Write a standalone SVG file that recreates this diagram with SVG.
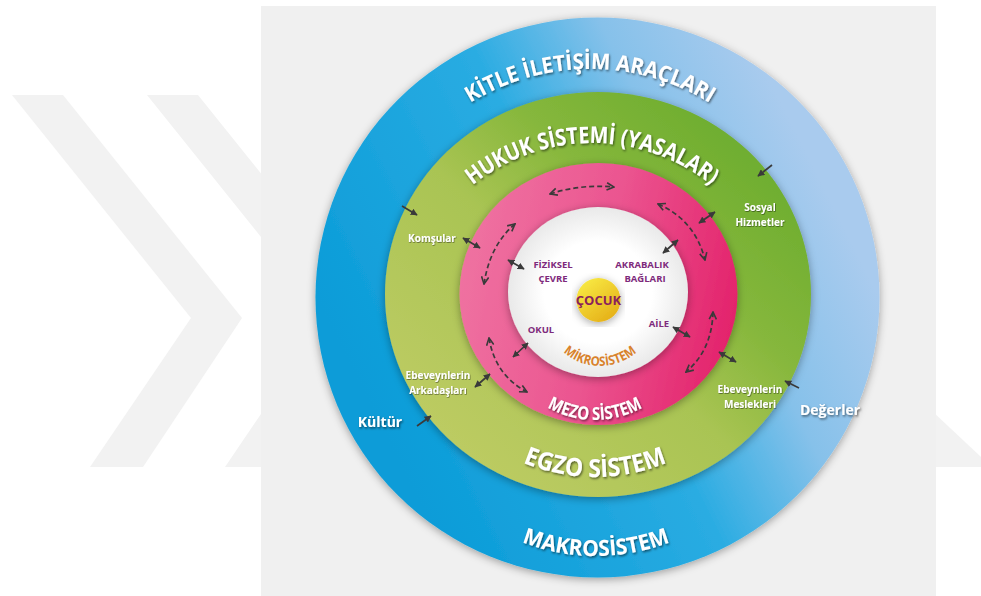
<svg xmlns="http://www.w3.org/2000/svg" width="981" height="596" viewBox="0 0 981 596">
<defs>
<style>
.ring-lbl{font-family:"Open Sans","Noto Sans","DejaVu Sans",sans-serif;font-weight:700;fill:#ffffff;filter:url(#ts)}
.small{font-family:"Open Sans","Noto Sans","DejaVu Sans",sans-serif;font-weight:700;font-size:10px;fill:#ffffff;text-anchor:middle;filter:url(#ts2)}
.side{font-family:"Open Sans","Noto Sans","DejaVu Sans",sans-serif;font-weight:700;font-size:14px;fill:#ffffff;text-anchor:middle;filter:url(#ts)}
.micro{font-family:"Open Sans","Noto Sans","DejaVu Sans",sans-serif;font-weight:700;font-size:9.5px;fill:#7e2a7c;text-anchor:middle}
.solid{fill:none;stroke:#3a3a3a;stroke-width:1.7;marker-start:url(#ah);marker-end:url(#ah)}
.single{fill:none;stroke:#3a3a3a;stroke-width:1.7;marker-end:url(#ah)}
.dash{fill:none;stroke:#3a3a3a;stroke-width:1.7;stroke-dasharray:5 3;marker-start:url(#ch);marker-end:url(#ch)}
</style>
<linearGradient id="gBlue" x1="0.1" y1="0.7" x2="0.9" y2="0.3">
<stop offset="0" stop-color="#0b9cd8"/><stop offset="0.5" stop-color="#2aace2"/><stop offset="0.75" stop-color="#86c1ea"/><stop offset="1" stop-color="#a9cbee"/>
</linearGradient>
<linearGradient id="gGreen" x1="0.15" y1="0.85" x2="0.85" y2="0.15">
<stop offset="0" stop-color="#bccb62"/><stop offset="0.45" stop-color="#a9c453"/><stop offset="0.7" stop-color="#86b73c"/><stop offset="1" stop-color="#6fae30"/>
</linearGradient>
<linearGradient id="gPink" x1="0" y1="0.4" x2="1" y2="0.6">
<stop offset="0" stop-color="#ef72a1"/><stop offset="0.5" stop-color="#eb5590"/><stop offset="1" stop-color="#e3226b"/>
</linearGradient>
<radialGradient id="gWhite" cx="0.5" cy="0.5" r="0.5">
<stop offset="0.6" stop-color="#ffffff"/><stop offset="1" stop-color="#e9e9e9"/>
</radialGradient>
<linearGradient id="gYellow" x1="0.2" y1="0.1" x2="0.8" y2="0.9">
<stop offset="0" stop-color="#f7e640"/><stop offset="1" stop-color="#e6b21a"/>
</linearGradient>
<filter id="sh" x="-10%" y="-10%" width="120%" height="120%">
<feDropShadow dx="0" dy="2" stdDeviation="4" flood-color="#000" flood-opacity="0.35"/>
</filter>
<filter id="ts" x="-10%" y="-30%" width="120%" height="160%">
<feDropShadow dx="1" dy="1.5" stdDeviation="0.8" flood-color="#000" flood-opacity="0.55"/>
</filter>
<filter id="ts2" x="-10%" y="-30%" width="120%" height="160%">
<feDropShadow dx="0.6" dy="0.8" stdDeviation="0.5" flood-color="#000" flood-opacity="0.5"/>
</filter>
<marker id="ah" viewBox="0 0 10 10" refX="9" refY="5" markerWidth="7" markerHeight="7" markerUnits="userSpaceOnUse" orient="auto-start-reverse">
<path d="M0,0 L10,5 L0,10 Z" fill="#3a3a3a"/>
</marker>
<marker id="ch" viewBox="0 0 10 10" refX="9" refY="5" markerWidth="9" markerHeight="9" markerUnits="userSpaceOnUse" orient="auto-start-reverse">
<path d="M1,1 L9,5 L1,9" fill="none" stroke="#3a3a3a" stroke-width="1.8"/>
</marker>
<path id="pKitle" d="M362 297 A228 228 0 0 1 818 297"/>
<path id="pHukuk" d="M402 333 A190 190 0 0 1 782 333"/>
<path id="pEgzo" d="M407 289 A188 188 0 0 0 783 289"/>
<path id="pMakro" d="M390 350 A206 206 0 0 0 802 350"/>
<path id="pMezo" d="M498 323 A97 97 0 0 0 692 323"/>
<path id="pMikro" d="M545 311 A55 55 0 0 0 655 311"/>
</defs>

<rect x="0" y="0" width="981" height="596" fill="#ffffff"/>
<g id="watermark" fill="#f2f2f2">
<polygon points="12,95 63,95 242,318 143,467 90,467 191,318"/>
<polygon points="147,95 198,95 377,318 278,467 225,467 326,318"/>
<polygon points="900,381 981,457 981,467 900,467"/>
</g>
<rect x="261" y="6" width="675" height="590" fill="#f0f0f0"/>

<g id="makrosistem">
<ellipse cx="597.5" cy="297.5" rx="282" ry="280" fill="url(#gBlue)" filter="url(#sh)"/>
<text class="ring-lbl" font-size="22"><textPath href="#pKitle" startOffset="50%" text-anchor="middle" textLength="252" lengthAdjust="spacingAndGlyphs">KİTLE İLETİŞİM ARAÇLARI</textPath></text>
<text class="ring-lbl" font-size="22"><textPath href="#pMakro" startOffset="50%" text-anchor="middle" textLength="152" lengthAdjust="spacingAndGlyphs">MAKROSİSTEM</textPath></text>
<text class="side" x="380" y="427">Kültür</text>
<text class="side" x="830" y="415">Değerler</text>
</g>

<g id="egzosistem">
<ellipse cx="598" cy="294.5" rx="213" ry="202.5" fill="url(#gGreen)" filter="url(#sh)"/>
<text class="ring-lbl" font-size="23"><textPath href="#pHukuk" startOffset="50%" text-anchor="middle" textLength="258" lengthAdjust="spacingAndGlyphs">HUKUK SİSTEMİ (YASALAR)</textPath></text>
<text class="ring-lbl" font-size="25"><textPath href="#pEgzo" startOffset="50%" text-anchor="middle" textLength="148" lengthAdjust="spacingAndGlyphs">EGZO SİSTEM</textPath></text>
<text class="small" x="432" y="242">Komşular</text>
<text class="small" x="760" y="211">Sosyal</text>
<text class="small" x="760" y="226">Hizmetler</text>
<text class="small" x="438" y="379">Ebeveynlerin</text>
<text class="small" x="438" y="393.5">Arkadaşları</text>
<text class="small" x="750" y="393">Ebeveynlerin</text>
<text class="small" x="750" y="407.5">Meslekleri</text>
</g>

<g id="mezosistem">
<ellipse cx="598.5" cy="294" rx="139" ry="131" fill="url(#gPink)" filter="url(#sh)"/>
<text class="ring-lbl" font-size="18"><textPath href="#pMezo" startOffset="50%" text-anchor="middle" textLength="100" lengthAdjust="spacingAndGlyphs">MEZO SİSTEM</textPath></text>
</g>

<g id="mikrosistem">
<ellipse cx="598" cy="292" rx="90" ry="85" fill="url(#gWhite)" filter="url(#sh)"/>
<text font-family="Open Sans, Noto Sans, sans-serif" font-weight="700" font-size="13" fill="#d9822b"><textPath href="#pMikro" startOffset="50%" text-anchor="middle" textLength="80" lengthAdjust="spacingAndGlyphs">MİKROSİSTEM</textPath></text>
<text class="micro" x="553" y="268">FİZİKSEL</text>
<text class="micro" x="553" y="282">ÇEVRE</text>
<text class="micro" x="642" y="268">AKRABALIK</text>
<text class="micro" x="645" y="282">BAĞLARI</text>
<text class="micro" x="541" y="333">OKUL</text>
<text class="micro" x="659" y="327">AİLE</text>
</g>

<g id="cocuk">
<circle cx="598.5" cy="300" r="22" fill="url(#gYellow)" filter="url(#sh)"/>
<text x="598.5" y="305" font-family="Open Sans, Noto Sans, sans-serif" font-weight="700" font-size="13" fill="#8a1f5c" text-anchor="middle">ÇOCUK</text>
</g>

<g id="connectors">
<line class="solid" x1="463" y1="238" x2="480" y2="248"/>
<line class="solid" x1="508" y1="260" x2="524" y2="269"/>
<line class="solid" x1="699" y1="223" x2="715" y2="212"/>
<line class="solid" x1="663" y1="253" x2="678" y2="240"/>
<line class="solid" x1="513" y1="357" x2="528" y2="343"/>
<line class="solid" x1="475" y1="387" x2="490" y2="374"/>
<line class="solid" x1="673" y1="327" x2="690" y2="337"/>
<line class="solid" x1="719" y1="352" x2="736" y2="362"/>
<line class="single" x1="402" y1="206" x2="417" y2="215"/>
<line class="single" x1="772" y1="165" x2="758" y2="176"/>
<line class="single" x1="417" y1="426" x2="431" y2="416"/>
<line class="single" x1="799" y1="388" x2="785" y2="381"/>
<path class="dash" d="M550 194 Q580 184 614 187"/>
<path class="dash" d="M658 204 Q695 220 705 260"/>
<path class="dash" d="M515 224 Q490 245 484 284"/>
<path class="dash" d="M489 338 Q495 375 527 392"/>
<path class="dash" d="M713 312 Q712 350 686 372"/>
</g>
</svg>
